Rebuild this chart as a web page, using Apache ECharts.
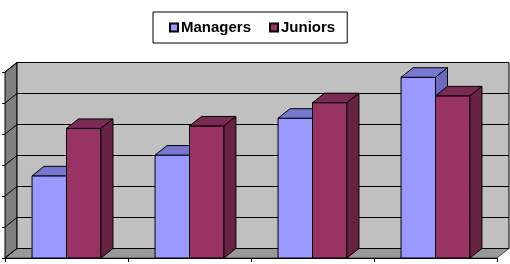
<!DOCTYPE html>
<html>
<head>
<meta charset="utf-8">
<script src="https://cdn.jsdelivr.net/npm/echarts@6/dist/echarts.min.js"></script>
<style>
  html, body { margin: 0; padding: 0; background: #fff; }
  #chart { width: 510px; height: 264px; }
</style>
</head>
<body>
<div id="chart"></div>
<script>
var categories = ['1', '2', '3', '4'];
var managers = [26.5, 33.2, 45.1, 58.3];
var juniors = [41.8, 42.6, 50.1, 52.3];
var ticks = [0, 10, 20, 30, 40, 50, 60];

var DX = 12, DY = -9.5; // depth of the 3d look
var FONT = '"Liberation Sans", Arial, sans-serif';

function pts(a) { return a.map(function (p) { return [p[0], p[1]]; }); }

// walls + floor, drawn from the grid rect
function wallsItem(params, api) {
  var cs = params.coordSys;
  var x0 = cs.x, y0 = cs.y, x1 = cs.x + cs.width, y1 = cs.y + cs.height;
  return {
    type: 'group',
    children: [
      { type: 'polygon', shape: { points: pts([[x0, y0], [x0 + DX, y0 + DY], [x0 + DX, y1 + DY], [x0, y1]]) },
        style: { fill: '#808080', stroke: '#000', lineWidth: 1 } },
      { type: 'rect', shape: { x: x0 + DX, y: y0 + DY, width: cs.width, height: cs.height },
        style: { fill: '#c0c0c0', stroke: '#000', lineWidth: 1 } },
      { type: 'polygon', shape: { points: pts([[x0, y1], [x1, y1], [x1 + DX, y1 + DY], [x0 + DX, y1 + DY]]) },
        style: { fill: '#999999', stroke: '#000', lineWidth: 0.6 } }
    ]
  };
}

// grid lines on left and back wall
function gridItem(params, api) {
  var cs = params.coordSys;
  var p = api.coord([0, api.value(0)]);
  var y = p[1];
  var x0 = cs.x, x1 = cs.x + cs.width;
  return {
    type: 'polyline',
    shape: { points: [[x0, y], [x0 + DX, y + DY], [x1 + DX, y + DY]] },
    style: { stroke: '#000', lineWidth: 1, fill: null }
  };
}

function barItem(side, front, topC, sideC) {
  return function (params, api) {
    var c = api.coord([api.value(0), api.value(1)]);
    var b = api.coord([api.value(0), 0]);
    var w = api.size([1, 0])[0] * 0.28;
    var x0 = side === 0 ? c[0] - w : c[0];
    var x1 = x0 + w;
    var yt = c[1], yb = b[1];
    return {
      type: 'group',
      children: [
        { type: 'rect', shape: { x: x0, y: yt, width: w, height: yb - yt },
          style: { fill: front, stroke: '#000', lineWidth: 1 } },
        { type: 'polygon', shape: { points: [[x0, yt], [x0 + DX, yt + DY], [x1 + DX, yt + DY], [x1, yt]] },
          style: { fill: topC, stroke: '#000', lineWidth: 1 } },
        { type: 'polygon', shape: { points: [[x1, yt], [x1 + DX, yt + DY], [x1 + DX, yb + DY], [x1, yb]] },
          style: { fill: sideC, stroke: '#000', lineWidth: 1 } }
      ]
    };
  };
}

var chart = echarts.init(document.getElementById('chart'));
chart.setOption({
  animation: false,
  backgroundColor: '#fff',
  legend: {
    data: ['Managers', 'Juniors'],
    left: 153,
    top: 12,
    padding: [8, 12, 8, 16],
    itemGap: 18,
    itemWidth: 8,
    itemHeight: 8,
    icon: 'rect',
    borderColor: '#000',
    borderWidth: 1,
    selectedMode: false,
    textStyle: { fontFamily: FONT, fontWeight: 'bold', fontSize: 15, color: '#000', padding: [0, 0, 0, -2] }
  },
  grid: { left: 5, right: 13, top: 72, bottom: 6 },
  xAxis: {
    type: 'category',
    data: categories,
    axisLine: { show: true, lineStyle: { color: '#000', width: 1 } },
    axisTick: { show: true, length: 4, lineStyle: { color: '#000' } },
    axisLabel: { show: false }
  },
  yAxis: {
    type: 'value',
    min: 0,
    max: 60,
    interval: 10,
    axisLine: { show: true, lineStyle: { color: '#000', width: 1 } },
    axisTick: { show: true, length: 3, lineStyle: { color: '#000' } },
    axisLabel: { show: false },
    splitLine: { show: false }
  },
  series: [
    { name: 'walls', type: 'custom', renderItem: wallsItem, data: [[0, 0]], z: 1, silent: true },
    { name: 'grid', type: 'custom', renderItem: gridItem, data: ticks.map(function (t) { return [t]; }),
      encode: { y: 0 }, z: 2, silent: true },
    { name: 'Managers', type: 'custom', z: 3,
      renderItem: barItem(0, '#9999ff', '#7777d0', '#6a6ac0'),
      itemStyle: { color: '#9999ff', borderColor: '#000', borderWidth: 1 },
      data: managers.map(function (v, i) { return [i, v]; }) },
    { name: 'Juniors', type: 'custom', z: 4,
      renderItem: barItem(1, '#993366', '#7b2a54', '#682244'),
      itemStyle: { color: '#993366', borderColor: '#000', borderWidth: 1 },
      data: juniors.map(function (v, i) { return [i, v]; }) }
  ]
});
</script>
</body>
</html>
